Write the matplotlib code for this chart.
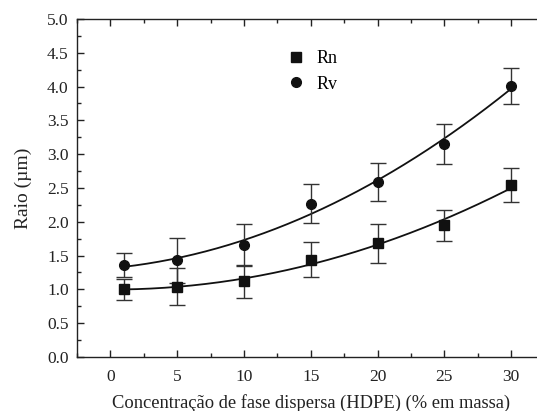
import numpy as np
import matplotlib
matplotlib.use("Agg")
import matplotlib.pyplot as plt
from matplotlib.ticker import MultipleLocator, FormatStrFormatter
from matplotlib.lines import Line2D

# data
conc = [1, 5, 10, 15, 20, 25, 30]          # % em massa HDPE
rn = [1.00, 1.04, 1.12, 1.44, 1.68, 1.95, 2.54]
rn_err = [0.16, 0.27, 0.24, 0.26, 0.29, 0.23, 0.25]
rv = [1.36, 1.43, 1.65, 2.27, 2.59, 3.15, 4.01]
rv_err = [0.18, 0.33, 0.31, 0.29, 0.28, 0.30, 0.27]

plt.rcParams['font.family'] = ['Liberation Serif', 'DejaVu Serif']

fig = plt.figure(figsize=(5.37, 4.11), dpi=100)
ax = fig.add_axes([0.1434, 0.1314, 0.8708, 0.8224])

MARK_COLOR = '#111111'
ERR_COLOR = '#333333'
ax.errorbar(conc, rn, yerr=rn_err, fmt='s', color=MARK_COLOR, ms=6.5,
            ecolor=ERR_COLOR, elinewidth=1.0, capsize=6, capthick=1.0,
            zorder=3)
ax.errorbar(conc, rv, yerr=rv_err, fmt='o', color=MARK_COLOR, ms=7,
            ecolor=ERR_COLOR, elinewidth=1.0, capsize=6, capthick=1.0,
            zorder=3)

# smooth fitted curves (2nd order polynomial fit of the points)
xs = np.linspace(conc[0], conc[-1], 200)
for vals in (rn, rv):
    coef = np.polyfit(conc, vals, 2)
    ax.plot(xs, np.polyval(coef, xs), color=MARK_COLOR, lw=1.3, zorder=2)

ax.set_xlim(-2.5, 32.5)
ax.set_ylim(0, 5)
ax.xaxis.set_major_locator(MultipleLocator(5))
ax.xaxis.set_minor_locator(MultipleLocator(2.5))
ax.yaxis.set_major_locator(MultipleLocator(0.5))
ax.yaxis.set_minor_locator(MultipleLocator(0.25))
ax.yaxis.set_major_formatter(FormatStrFormatter('%.1f'))
ax.tick_params(which='both', direction='in', top=True, right=True,
               colors='#222222', labelsize=12.5, width=1.0)
ax.tick_params(which='major', length=5)
ax.tick_params(which='minor', length=3)
ax.tick_params(axis='x', which='major', pad=9)
ax.tick_params(axis='y', which='major', pad=6)
for s in ax.spines.values():
    s.set_color('#222222')
    s.set_linewidth(1.0)

ax.set_xlabel('Concentração de fase dispersa (HDPE) (% em massa)',
              fontsize=13.3, color='#222222', labelpad=6)
ax.set_ylabel('Raio (µm)', fontsize=14, color='#222222', labelpad=11)

handles = [Line2D([], [], ls='none', marker='s', ms=6.5, color=MARK_COLOR),
           Line2D([], [], ls='none', marker='o', ms=7, color=MARK_COLOR)]
ax.legend(handles, ['Rn', 'Rv'], loc='upper left',
          bbox_to_anchor=(0.415, 0.955), frameon=False, fontsize=13,
          handlelength=1.0, handletextpad=0.6, labelspacing=0.45)

fig.savefig('out.png', dpi=100)
